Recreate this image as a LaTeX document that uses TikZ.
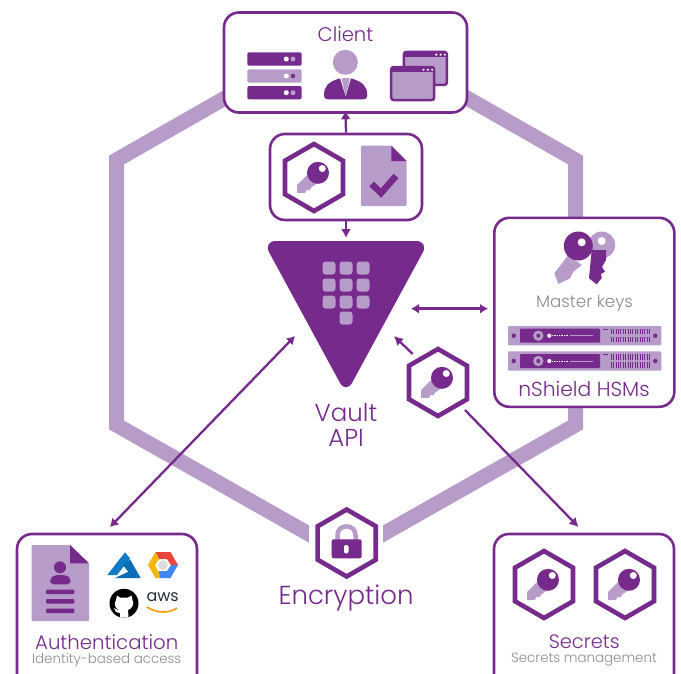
\documentclass[tikz,border=0pt]{standalone}
\usepackage{fontspec}
\setmainfont{Poppins Light}
\newfontfamily\awsfont{Poppins}
\usetikzlibrary{shapes.geometric,arrows.meta}
\definecolor{vp}{HTML}{752A8C}
\definecolor{vl}{HTML}{B79BC8}
\definecolor{vg}{HTML}{8C8C8C}
\definecolor{aza}{HTML}{0F7BC4}
\definecolor{azb}{HTML}{0A6EB4}
\definecolor{gr}{HTML}{E8453C}
\definecolor{gy}{HTML}{F6B60C}
\definecolor{gb}{HTML}{4285F4}
\definecolor{gg}{HTML}{DDDDDD}
\definecolor{awsd}{HTML}{232F3E}
\definecolor{awso}{HTML}{FF9900}
\tikzset{
  x=1pt,y=-1pt,
  boxn/.style={draw=vp,line width=2.6pt,fill=white,rounded corners=15pt,inner sep=0pt},
  hexn/.style={draw=vp,line width=4.6pt,fill=white,regular polygon,regular polygon sides=6,regular polygon rotate=30,minimum size=67pt,inner sep=0pt},
  arr/.style={draw=vp,line width=2.3pt,-{Latex[length=9pt,width=10pt]}},
  darr/.style={draw=vp,line width=2.3pt,{Latex[length=8pt,width=10pt]}-{Latex[length=8pt,width=10pt]}},
  lab/.style={text=vp,inner sep=0pt},
  glab/.style={text=vg,inner sep=0pt},
  keyglyph/.pic={
    \fill[vl] (-17,7.7)--(-17,15.3)--(-9,15.3)--(-7.7,12.7)--(-4.3,12.7)--(-3,10)--(3,6)--(-6,-3.3)--cycle;
    \fill[vp] (4,-4.7) circle[radius=11];
    \fill[white] (8.3,-9) circle[radius=3.5];
  },
  hsmrow/.pic={
    \fill[vl,rounded corners=1pt] (0,0) rectangle (153.3,19.4);
    \fill[vp,rounded corners=1pt] (12,2.7) rectangle (92,16.7);
    \fill[vp] (5.7,9.7) circle[radius=2.2] (147.3,9.7) circle[radius=2.2];
    \fill[vl] (30.3,9.7) circle[radius=5.2];
    \fill[vp] (30.3,9.7) circle[radius=2];
    \fill[white] (41.3,9.7) circle[radius=2.1];
    \draw[white,line width=1pt,dash pattern=on 1pt off .7pt] (44,9.7)--(60,9.7);
    \draw[vl,line width=1pt] (62,9.7)--(84.7,9.7);
    \draw[vp,line width=1.2pt] (95.3,3.3)--(100,3.3);
    \draw[vp,line width=5.5pt,dash pattern=on 1pt off 1.4pt] (102.7,5.6)--(142,5.6);
    \draw[vp,line width=5.5pt,dash pattern=on 1pt off 1.4pt] (102.7,13.6)--(142,13.6);
  },
  winicon/.pic={
    \draw[vp,line width=2.5pt,fill=vl,rounded corners=2.5pt] (0,0) rectangle (43,33);
    \fill[vp] (0,0) rectangle (43,5);
    \fill[white] (32.3,2.7) circle[radius=1.2] (36.7,2.7) circle[radius=1.2] (41,2.7) circle[radius=1.2];
  }
}
\begin{document}
\begin{tikzpicture}
\useasboundingbox (0,0) rectangle (681,673);
% encryption hexagon band
\draw[vl,line width=15pt,miter limit=4] (346,29)--(116.5,160)--(116.5,425)--(346,555)--(575.5,425)--(575.5,160)--cycle;
\fill[white] (309,490) rectangle (383,570);
% boxes
\node[boxn,minimum width=243pt,minimum height=100pt] (client) at (345.5,62.5) {};
\node[boxn,minimum width=152pt,minimum height=86pt] (mid) at (346,177) {};
\node[boxn,minimum width=180pt,minimum height=189pt] (hsm) at (584.3,312.3) {};
\node[boxn,minimum width=180pt,minimum height=170pt] (auth) at (107,619) {};
\node[boxn,minimum width=180pt,minimum height=170pt] (secrets) at (584,619) {};
% Client
\node[lab,font=\fontsize{19.6}{22}\selectfont] (clientlabel) at (345.5,34) {Client};
\fill[vp,rounded corners=2pt] (247.3,52.3) rectangle (301.7,65.7);
\fill[vl,rounded corners=2pt] (247.3,69.3) rectangle (301.7,82.7);
\fill[vp,rounded corners=2pt] (247.3,86) rectangle (301.7,99.3);
\fill[white] (286.3,59) circle[radius=2.5] (286.3,76) circle[radius=2.5] (286.3,92.7) circle[radius=2.5];
\fill[vl] (293,59) circle[radius=2.5] (293,92.7) circle[radius=2.5];
\fill[vp] (293,76) circle[radius=2.2];
\fill[vl] (345.3,62.3) circle[radius=12.5];
\fill[vp] (324,95.5) .. controls (324,86) and (328,82) .. (340,78.3) -- (351,78.3) .. controls (363,82) and (367.3,86) .. (367.3,95.5) .. controls (367.3,98) and (366,99.3) .. (363.5,99.3) -- (328,99.3) .. controls (325,99.3) and (324,98) .. (324,95.5) -- cycle;
\fill[white] (340,78) -- (351,78) -- (345.7,96) -- cycle;
\fill[vl] (341.5,78) -- (349.8,78) -- (348.6,84) -- (345.7,96) -- (342.7,84) -- cycle;
\pic at (403.9,51.9) {winicon};
\pic at (391.2,67) {winicon};
% middle box
\node[hexn] (hexa) at (314,177.5) {};
\pic at (314,177.5) {keyglyph};
\fill[vl,rounded corners=1pt] (361,145.7) -- (391.3,145.7) -- (406.7,161) -- (406.7,206) -- (361,206) -- cycle;
\fill[vp] (391.3,145.7) -- (406.7,161) -- (391.3,161) -- cycle;
\draw[vp,line width=6.5pt] (371.7,184) -- (381,193) -- (396,176);
% vault
\fill[vp,rounded corners=13pt] (263,241) -- (429,241) -- (346,394) -- cycle;
\foreach \px in {329,346,363} \foreach \py in {268,285,302}
  \fill[vl,rounded corners=3pt] (\px-6.5,\py-6.5) rectangle (\px+6.5,\py+6.5);
\fill[vl,rounded corners=3pt] (339.5,311.5) rectangle (352.5,324.5);
\node[lab,font=\fontsize{24.5}{25}\selectfont] (vaultlabel) at (346,413) {Vault};
\node[lab,font=\fontsize{24.5}{25}\selectfont] (apilabel) at (346,438) {API};
\coordinate (vaulttop) at (346,238);
\coordinate (vaultright) at (411,308.7);
\coordinate (vaultkey) at (394,336);
\coordinate (vaultauth) at (295,336);
\coordinate (keyout) at (412.7,354);
\coordinate (keysec) at (465,410);
\coordinate (secin) at (578.5,527);
\coordinate (authin) at (110,527);
\coordinate (hsmin) at (488,308.7);
% hsm
\fill[vl] (601.7,245) circle[radius=13.5];
\fill[white] (601.7,241) circle[radius=4];
\fill[vp] (591.7,250) -- (589,278.3) -- (596.7,284.3) -- (601.7,278) -- (601,274) -- (605,271.7) -- (602,267) -- (606,260) -- (606,250) -- cycle;
\fill[vl] (568.3,255) -- (554.3,273.3) -- (558.3,284) -- (565,280.7) -- (570,278.3) -- (573.3,271.7) -- (581.7,265) -- cycle;
\fill[vp] (578.3,246) circle[radius=14.5];
\fill[white] (581.7,242.3) circle[radius=4];
\node[glab,font=\fontsize{16.7}{18}\selectfont] (masterlabel) at (584.5,303.5) {Master keys};
\pic at (508,326) {hsmrow};
\pic at (508,351.3) {hsmrow};
\node[lab,font=\fontsize{20.3}{22}\selectfont] (hsmlabel) at (584,389) {nShield HSMs};
% key hex
\node[hexn] (keyhex) at (438,382.5) {};
\pic at (438,382.5) {keyglyph};
% encryption
\node[hexn] (enc) at (346.7,543) {};
\draw[vl,line width=4.5pt] (337.5,541) -- (337.5,535) .. controls (337.5,523.5) and (355.5,523.5) .. (355.5,535) -- (355.5,541);
\fill[vp,rounded corners=2pt] (331.7,539.3) rectangle (361.7,558.3);
\fill[white,rounded corners=2pt] (344,545) rectangle (348.5,553.5);
\node[lab,font=\fontsize{26}{28}\selectfont] (enclabel) at (346,598.5) {Encryption};
% auth
\fill[vl,rounded corners=1pt] (31.7,545) -- (70,545) -- (89,563.3) -- (89,621) -- (31.7,621) -- cycle;
\fill[vp] (70,545) -- (89,563.3) -- (70,563.3) -- cycle;
\fill[vp] (60,567.3) circle[radius=6];
\fill[vp,rounded corners=4pt] (50,584.3) -- (50,579) -- (54,575) -- (67,575) -- (70.7,579) -- (70.7,584.3) -- cycle;
\fill[vp,rounded corners=1pt] (46,589.5) rectangle (74.3,594) (46,599) rectangle (74.3,603.5) (46,608.5) rectangle (74.3,613);
% azure
\fill[aza] (125,552.3) -- (107.3,575) -- (117,575) -- (130,558.3) -- cycle;
\fill[azb] (130,559.3) -- (140.7,578) -- (115,578) -- (128.3,571.7) -- (122.7,565) -- cycle;
% gcp
\fill[gr] (155.5,552) -- (170.5,552) -- (178,565) -- (171,565) -- (167,559) -- (159,559) -- cycle;
\fill[gy] (155.5,552) -- (148,565) -- (155.5,578) -- (162,578) -- (158,571) -- (155,565) -- (159,559) -- cycle;
\fill[gb] (178,565) -- (170.5,578) -- (160,578) -- (159,571) -- (167,571) -- (171,565) -- cycle;
\fill[gg] (163,565) circle[radius=5];
% github
\fill[black] (124,603.3) circle[radius=14.5];
\fill[white] (117,595.5) -- (120,597.5) -- (128,597.5) -- (131.5,595.5) -- (132.5,600) .. controls (135,605) and (131,609) .. (128,610) -- (128.5,617.5) -- (120,617.5) -- (120,613) -- (116,612) -- (114,608) -- (118,610) -- (120,610.5) .. controls (116,609) and (113,605) .. (116,600) -- cycle;
% aws
\node[inner sep=0pt,text=awsd,font=\awsfont\fontsize{16}{16}\selectfont] (awslabel) at (162.7,597) {aws};
\draw[awso,line width=1.6pt] (146.7,607) .. controls (156,613) and (168,614) .. (177,608);
\node[lab,font=\fontsize{19.7}{22}\selectfont] (authlabel) at (106.7,641.7) {Authentication};
\node[glab,font=\fontsize{13.4}{15}\selectfont] (authsub) at (106.7,660) {Identity-based access};
% secrets
\node[hexn] (seca) at (544,584.5) {};
\pic at (544,584.5) {keyglyph};
\node[hexn] (secb) at (625,584.5) {};
\pic at (625,584.5) {keyglyph};
\node[lab,font=\fontsize{19.4}{22}\selectfont] (seclabel) at (584.3,641.7) {Secrets};
\node[glab,font=\fontsize{13.4}{15}\selectfont] (secsub) at (584,660) {Secrets management};
% connectors
\draw[arr] (mid.north) -- ([yshift=3.5pt]client.south);
\draw[arr] (mid.south) -- (vaulttop);
\draw[darr,line width=3pt] (vaultright) -- (hsmin);
\draw[arr] (keyout) -- (vaultkey);
\draw[arr] (keysec) -- (secin);
\draw[darr] (vaultauth) -- (authin);
\end{tikzpicture}
\end{document}
